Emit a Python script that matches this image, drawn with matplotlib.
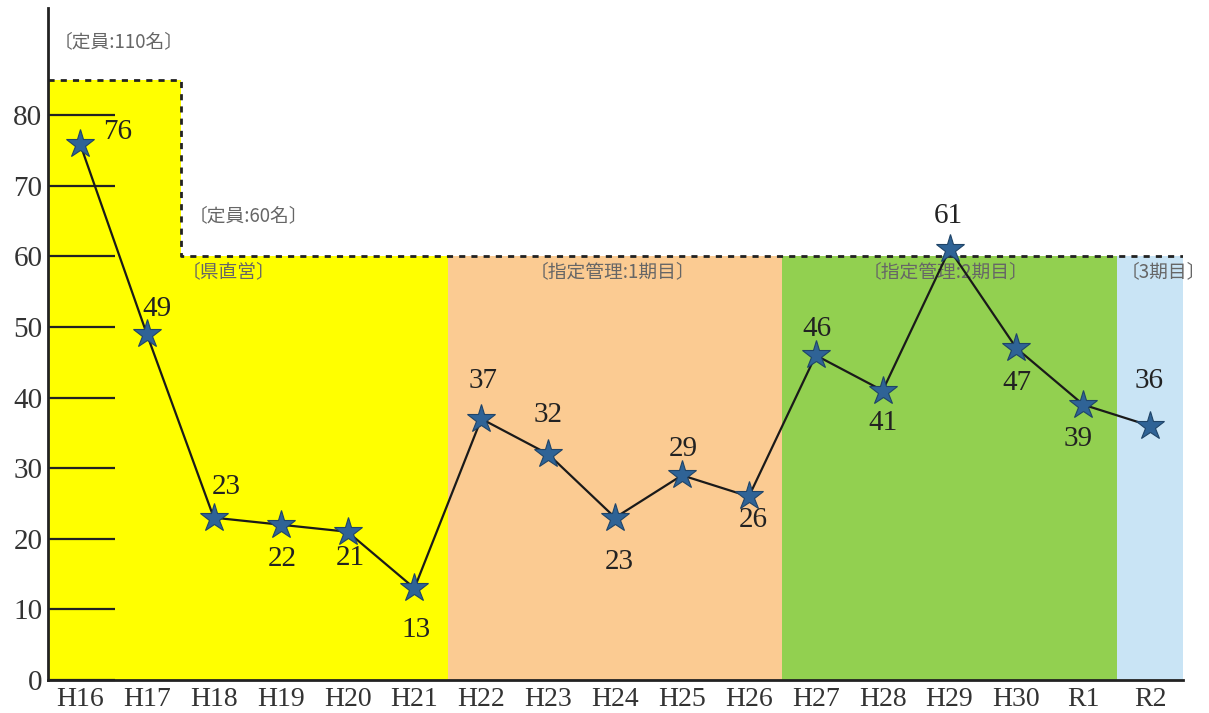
import matplotlib.pyplot as plt

years = ['H16', 'H17', 'H18', 'H19', 'H20', 'H21', 'H22', 'H23', 'H24',
         'H25', 'H26', 'H27', 'H28', 'H29', 'H30', 'R1', 'R2']
values = [76, 49, 23, 22, 21, 13, 37, 32, 23, 29, 26, 46, 41, 61, 47, 39, 36]
# label offsets in points (dx, dy)
offsets = [(27, 8), (7, 18), (9, 22), (1, -25), (2, -19), (1, -30), (1, 27),
           (0, 28), (3, -32), (1, 19), (3, -17), (1, 19), (0, -23), (-1, 24),
           (0, -25), (-4, -25), (-1, 32)]

periods = ['〔県直営〕', '〔指定管理:1期目〕', '〔指定管理:2期目〕', '〔3期目〕']
period_spans = [(-0.478, 5.5), (5.5, 10.5), (10.5, 15.5), (15.5, 16.49)]
period_colors = ['#FFFF00', '#FBCB92', '#92D050', '#C9E4F5']
period_text_x = [1.52, 6.72, 11.7, 15.56]

cap_x = [-0.478, 1.51, 1.51, 16.49]
cap_y = [85, 85, 60, 60]

num_font = ['Liberation Serif', 'Noto Sans CJK JP']
jp_font = ['Noto Sans CJK JP', 'DejaVu Sans']

fig = plt.figure(figsize=(12.09, 7.13), dpi=100)
ax = fig.add_axes([48/1209, 33/713, (1183-48)/1209, (680-8)/713])
x = list(range(len(years)))

# background bands
for (a, b), c in zip(period_spans, period_colors):
    ax.fill_between([a, b], 0, 60, color=c, lw=0, zorder=0)
ax.fill_between([cap_x[0], cap_x[1]], 60, 85, color=period_colors[0], lw=0, zorder=0)
ax.plot(cap_x, cap_y, color='#222222', ls=(0, (2.2, 2.2)), lw=2, zorder=1)

for t, tx in zip(periods, period_text_x):
    ax.text(tx, 57.8, t, fontsize=13.5, color='#666666', family=jp_font,
            va='center', ha='left', zorder=2)
ax.text(-0.4, 90.5, '〔定員:110名〕', fontsize=13.5, color='#666666',
        family=jp_font, va='center', ha='left')
ax.text(1.63, 65.8, '〔定員:60名〕', fontsize=13.5, color='#666666',
        family=jp_font, va='center', ha='left')

ax.plot(x, values, color='#1a1a1a', lw=1.6, zorder=3)
ax.plot(x, values, ls='none', marker='*', ms=21, color='#2F6396',
        mec='#1F4468', mew=0.8, zorder=4)

for xi, v, (dx, dy) in zip(x, values, offsets):
    ax.annotate(str(v), (xi, v), xytext=(dx, dy), textcoords='offset points',
                ha='center', va='center', fontsize=21, family=num_font,
                color='#222222', zorder=5)

ax.set_xlim(-0.478, 16.49)
ax.set_ylim(0, 95.2)
ax.set_xticks(x)
ax.set_xticklabels(years, fontsize=20, family=num_font, color='#333333')
ax.set_yticks(range(0, 90, 10))
ax.set_yticklabels([str(v) for v in range(0, 90, 10)], fontsize=21,
                   family=num_font, color='#333333')
ax.tick_params(axis='y', direction='in', length=48, width=1.6,
               color='#222222', pad=4)
ax.tick_params(axis='x', length=0, pad=5)
for s in ['top', 'right']:
    ax.spines[s].set_visible(False)
for s in ['left', 'bottom']:
    ax.spines[s].set_linewidth(2)
    ax.spines[s].set_color('#222222')
ax.patch.set_alpha(0)

fig.savefig('out.png', dpi=100)
